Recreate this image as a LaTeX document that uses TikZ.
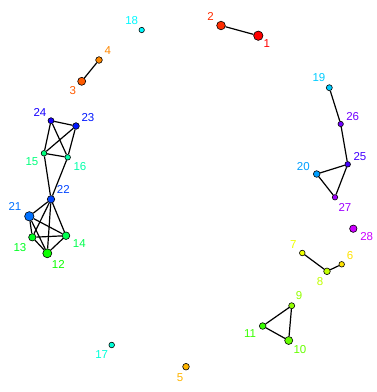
\PassOptionsToPackage{rgb}{xcolor}
\documentclass[tikz,border=0pt]{standalone}
\usepackage{fontspec}
\setmainfont{Liberation Sans}
\usetikzlibrary{backgrounds}
\definecolor{c1}{hsb}{0,1,1}
\definecolor{c2}{hsb}{0.02963,1,1}
\definecolor{c3}{hsb}{0.05926,1,1}
\definecolor{c4}{hsb}{0.08889,1,1}
\definecolor{c5}{hsb}{0.11852,1,1}
\definecolor{c6}{hsb}{0.14815,1,1}
\definecolor{c7}{hsb}{0.17778,1,1}
\definecolor{c8}{hsb}{0.20741,1,1}
\definecolor{c9}{hsb}{0.23704,1,1}
\definecolor{c10}{hsb}{0.26667,1,1}
\definecolor{c11}{hsb}{0.2963,1,1}
\definecolor{c12}{hsb}{0.32593,1,1}
\definecolor{c13}{hsb}{0.35556,1,1}
\definecolor{c14}{hsb}{0.38519,1,1}
\definecolor{c15}{hsb}{0.41481,1,1}
\definecolor{c16}{hsb}{0.44444,1,1}
\definecolor{c17}{hsb}{0.47407,1,1}
\definecolor{c18}{hsb}{0.5037,1,1}
\definecolor{c19}{hsb}{0.53333,1,1}
\definecolor{c20}{hsb}{0.56296,1,1}
\definecolor{c21}{hsb}{0.59259,1,1}
\definecolor{c22}{hsb}{0.62222,1,1}
\definecolor{c23}{hsb}{0.65185,1,1}
\definecolor{c24}{hsb}{0.68148,1,1}
\definecolor{c25}{hsb}{0.71111,1,1}
\definecolor{c26}{hsb}{0.74074,1,1}
\definecolor{c27}{hsb}{0.77037,1,1}
\definecolor{c28}{hsb}{0.8,1,1}
\begin{document}
\begin{tikzpicture}[x=1pt,y=-1pt,
  vtx/.style={circle,draw=black,line width=0.6pt,inner sep=0pt,minimum size=#1},
  lbl/.style={inner sep=0pt,font=\fontsize{11.5}{13}\selectfont},
  edge/.style={draw=black,line width=1.2pt}]
\useasboundingbox (0,0) rectangle (376,392);
% vertices
\node[vtx=9.4pt,fill=c1] (n1) at (258.3,35.7) {};
\node[vtx=8.6pt,fill=c2] (n2) at (221,25.5) {};
\node[vtx=8pt,fill=c3] (n3) at (81.7,81.3) {};
\node[vtx=6.6pt,fill=c4] (n4) at (99,60) {};
\node[vtx=6.6pt,fill=c5] (n5) at (186,366.7) {};
\node[vtx=5.6pt,fill=c6] (n6) at (341.7,264.3) {};
\node[vtx=5.6pt,fill=c7] (n7) at (302.3,253) {};
\node[vtx=6.6pt,fill=c8] (n8) at (327,271.3) {};
\node[vtx=6pt,fill=c9] (n9) at (291.7,305.7) {};
\node[vtx=8pt,fill=c10] (n10) at (288.7,340.5) {};
\node[vtx=6.6pt,fill=c11] (n11) at (262.7,326) {};
\node[vtx=9pt,fill=c12] (n12) at (47.3,253.3) {};
\node[vtx=7.4pt,fill=c13] (n13) at (32.3,237.3) {};
\node[vtx=7.6pt,fill=c14] (n14) at (66,235.7) {};
\node[vtx=5.6pt,fill=c15] (n15) at (44,153.3) {};
\node[vtx=5.6pt,fill=c16] (n16) at (67.7,157.3) {};
\node[vtx=5.6pt,fill=c17] (n17) at (111.7,345) {};
\node[vtx=5.4pt,fill=c18] (n18) at (141.7,30) {};
\node[vtx=6pt,fill=c19] (n19) at (329.3,87.7) {};
\node[vtx=6.6pt,fill=c20] (n20) at (316.7,174) {};
\node[vtx=9.4pt,fill=c21] (n21) at (29.3,216.3) {};
\node[vtx=7.4pt,fill=c22] (n22) at (51,199.3) {};
\node[vtx=6.6pt,fill=c23] (n23) at (76,126) {};
\node[vtx=6pt,fill=c24] (n24) at (51,120.7) {};
\node[vtx=5.6pt,fill=c25] (n25) at (347.7,164.3) {};
\node[vtx=5.4pt,fill=c26] (n26) at (340.7,124) {};
\node[vtx=5.4pt,fill=c27] (n27) at (335,197.3) {};
\node[vtx=7.4pt,fill=c28] (n28) at (353.3,228.7) {};
% labels
\node[lbl,text=c1] (l1) at (266.7,43.3) {1};
\node[lbl,text=c2] (l2) at (210.5,16.7) {2};
\node[lbl,text=c3] (l3) at (72.7,90.7) {3};
\node[lbl,text=c4] (l4) at (107.7,50.7) {4};
\node[lbl,text=c5] (l5) at (180,377.3) {5};
\node[lbl,text=c6] (l6) at (350,256) {6};
\node[lbl,text=c7] (l7) at (293.3,244.3) {7};
\node[lbl,text=c8] (l8) at (320,281.7) {8};
\node[lbl,text=c9] (l9) at (299,296) {9};
\node[lbl,text=c10] (l10) at (300,350) {10};
\node[lbl,text=c11] (l11) at (250,333.3) {11};
\node[lbl,text=c12] (l12) at (58.3,264) {12};
\node[lbl,text=c13] (l13) at (20,247.3) {13};
\node[lbl,text=c14] (l14) at (79.3,244) {14};
\node[lbl,text=c15] (l15) at (32,161.7) {15};
\node[lbl,text=c16] (l16) at (80,166.7) {16};
\node[lbl,text=c17] (l17) at (101.7,355) {17};
\node[lbl,text=c18] (l18) at (131.7,20.7) {18};
\node[lbl,text=c19] (l19) at (319,77.3) {19};
\node[lbl,text=c20] (l20) at (303.3,166.7) {20};
\node[lbl,text=c21] (l21) at (15,206.7) {21};
\node[lbl,text=c22] (l22) at (63.3,189.3) {22};
\node[lbl,text=c23] (l23) at (88,117.7) {23};
\node[lbl,text=c24] (l24) at (40,112.7) {24};
\node[lbl,text=c25] (l25) at (360,156.7) {25};
\node[lbl,text=c26] (l26) at (352.7,116.7) {26};
\node[lbl,text=c27] (l27) at (345,207.3) {27};
\node[lbl,text=c28] (l28) at (366.7,236.7) {28};
% edges
\begin{scope}[on background layer]
\fill[white] (0,0) rectangle (376,392);
\path[edge] (n1) -- (n2);
\path[edge] (n3) -- (n4);
\path[edge] (n7) -- (n8);
\path[edge] (n8) -- (n6);
\path[edge] (n9) -- (n10);
\path[edge] (n9) -- (n11);
\path[edge] (n10) -- (n11);
\path[edge] (n19) -- (n26);
\path[edge] (n26) -- (n25);
\path[edge] (n25) -- (n20);
\path[edge] (n25) -- (n27);
\path[edge] (n20) -- (n27);
\path[edge] (n24) -- (n23);
\path[edge] (n24) -- (n15);
\path[edge] (n24) -- (n16);
\path[edge] (n23) -- (n15);
\path[edge] (n23) -- (n16);
\path[edge] (n15) -- (n16);
\path[edge] (n15) -- (n22);
\path[edge] (n16) -- (n22);
\path[edge] (n21) -- (n22);
\path[edge] (n21) -- (n12);
\path[edge] (n21) -- (n13);
\path[edge] (n21) -- (n14);
\path[edge] (n22) -- (n12);
\path[edge] (n22) -- (n13);
\path[edge] (n22) -- (n14);
\path[edge] (n12) -- (n13);
\path[edge] (n12) -- (n14);
\path[edge] (n13) -- (n14);
\end{scope}
\end{tikzpicture}
\end{document}
